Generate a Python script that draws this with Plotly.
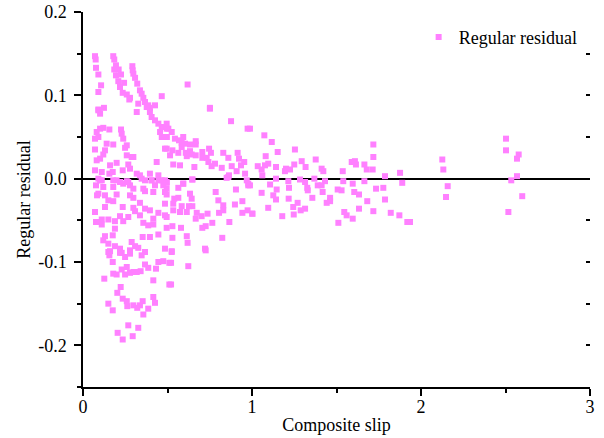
import plotly.graph_objects as go

# (composite slip, regular residual) pairs, grouped by region
pts_upper_left = [(0.071,0.147),(0.075,0.143),(0.077,0.133),(0.091,0.125),(0.107,0.112),(0.091,0.104),
    (0.179,0.147),(0.185,0.143),(0.195,0.136),(0.185,0.131),(0.211,0.131),(0.225,0.125),(0.195,0.124),
    (0.209,0.117),(0.243,0.115),(0.219,0.110),(0.235,0.103),(0.259,0.101),(0.278,0.097),(0.274,0.095),
    (0.292,0.135),(0.294,0.130),(0.298,0.126),(0.308,0.121),(0.321,0.114),(0.337,0.106),(0.347,0.102),
    (0.357,0.097),(0.367,0.092),(0.386,0.088),(0.396,0.085),(0.426,0.088),(0.466,0.099),(0.327,0.090),
    (0.124,0.085),(0.091,0.083),(0.619,0.113),(0.751,0.085)]

pts_mid_left = [(0.091,0.082),(0.101,0.078),(0.318,0.080),(0.377,0.086),(0.396,0.080),(0.406,0.074),
    (0.426,0.070),(0.446,0.066),(0.466,0.062),(0.456,0.056),(0.495,0.060),(0.495,0.050),(0.466,0.050),
    (0.101,0.060),(0.120,0.061),(0.081,0.056),(0.091,0.050),(0.071,0.048),(0.156,0.059),(0.225,0.059),
    (0.229,0.054),(0.238,0.048),(0.140,0.042),(0.179,0.041),(0.071,0.035),(0.130,0.034),(0.249,0.037),
    (0.259,0.040),(0.120,0.029),(0.101,0.024),(0.259,0.028),(0.288,0.026),(0.298,0.026),(0.436,0.020),
    (0.485,0.036),(0.081,0.022),(0.199,0.019),(0.160,0.016),(0.268,0.017),(0.235,0.010),(0.278,0.012),
    (0.111,0.008),(0.176,0.008),(0.156,0.006),(0.318,0.006),(0.337,0.004),(0.396,0.006),(0.446,0.004),
    (0.101,-0.002),(0.179,-0.002),(0.219,-0.004),(0.259,-0.003),(0.367,-0.002),(0.406,-0.002),(0.466,-0.002),
    (0.071,0.010),(0.077,-0.008),(0.083,-0.020),(0.071,-0.040),(0.077,-0.052)]

pts_mid_centre = [(0.751,0.084),(0.876,0.069),(0.974,0.060),(0.495,0.066),(0.505,0.060),(0.525,0.056),
    (0.495,0.050),(0.544,0.048),(0.568,0.046),(0.593,0.050),(0.584,0.043),(0.604,0.042),(0.633,0.041),
    (0.667,0.045),(0.667,0.041),(0.584,0.038),(0.495,0.036),(0.529,0.034),(0.564,0.031),(0.608,0.031),
    (0.633,0.033),(0.643,0.029),(0.515,0.028),(0.614,0.027),(0.667,0.028),(0.706,0.032),(0.746,0.036),
    (0.757,0.031),(0.706,0.025),(0.732,0.025),(0.742,0.020),(0.830,0.031),(0.860,0.025),(0.915,0.031),
    (0.923,0.024),(0.954,0.020),(0.935,0.016),(0.880,0.015),(0.821,0.013),(0.781,0.018),(0.761,0.015),
    (0.659,0.014),(0.574,0.016),(0.534,0.017),(0.909,0.009),(0.959,0.006),(0.864,0.004),(0.850,0.001),
    (0.647,-0.001),(0.495,-0.005),(0.593,-0.006),(0.978,-0.006)]

pts_low_left = [(0.091,0.000),(0.111,-0.002),(0.199,-0.002),(0.268,-0.004),(0.347,0.000),(0.406,-0.002),
    (0.446,-0.002),(0.485,-0.002),(0.120,-0.010),(0.179,-0.010),(0.238,-0.006),(0.278,-0.008),(0.298,-0.012),
    (0.357,-0.012),(0.426,-0.008),(0.475,-0.008),(0.091,-0.018),(0.130,-0.020),(0.199,-0.019),(0.278,-0.020),
    (0.298,-0.023),(0.367,-0.015),(0.416,-0.016),(0.485,-0.016),(0.150,-0.026),(0.179,-0.027),(0.130,-0.034),
    (0.235,-0.034),(0.337,-0.029),(0.298,-0.035),(0.308,-0.039),(0.367,-0.036),(0.396,-0.038),(0.446,-0.041),
    (0.485,-0.044),(0.485,-0.030),(0.219,-0.045),(0.268,-0.046),(0.337,-0.044),(0.416,-0.048),(0.111,-0.049),
    (0.150,-0.049),(0.189,-0.051),(0.238,-0.051),(0.357,-0.053),(0.386,-0.056),(0.416,-0.055),(0.111,-0.055),
    (0.189,-0.060),(0.130,-0.069),(0.176,-0.068),(0.353,-0.070),(0.396,-0.070),(0.446,-0.067),(0.120,-0.074),
    (0.288,-0.076),(0.150,-0.078),(0.189,-0.081),(0.219,-0.084),(0.308,-0.081),(0.327,-0.083),(0.160,-0.087),
    (0.229,-0.089),(0.278,-0.086),(0.485,-0.084)]

pts_low_centre = [(0.647,-0.001),(0.860,0.002),(0.969,-0.002),(0.495,-0.004),(0.593,-0.006),(0.564,-0.011),
    (0.495,-0.012),(0.978,-0.008),(0.785,-0.016),(0.905,-0.013),(0.495,-0.019),(0.540,-0.024),(0.564,-0.023),
    (0.633,-0.018),(0.643,-0.024),(0.801,-0.026),(0.943,-0.027),(0.534,-0.030),(0.584,-0.033),(0.627,-0.033),
    (0.647,-0.033),(0.830,-0.032),(0.899,-0.031),(0.534,-0.038),(0.574,-0.040),(0.614,-0.040),(0.673,-0.041),
    (0.702,-0.045),(0.737,-0.042),(0.805,-0.041),(0.830,-0.038),(0.943,-0.041),(0.974,-0.038),(1.002,-0.042),
    (0.495,-0.046),(0.667,-0.048),(0.765,-0.053),(0.866,-0.052),(0.495,-0.059),(0.529,-0.057),(0.580,-0.059),
    (0.706,-0.059),(0.726,-0.057),(0.529,-0.071),(0.614,-0.069),(0.824,-0.071),(0.619,-0.077),(0.722,-0.084),
    (0.525,-0.087)]

pts_bottom = [(0.150,-0.088),(0.156,-0.092),(0.219,-0.089),(0.249,-0.094),(0.278,-0.090),(0.347,-0.092),
    (0.367,-0.088),(0.176,-0.100),(0.446,-0.100),(0.475,-0.099),(0.511,-0.101),(0.259,-0.106),(0.229,-0.109),
    (0.367,-0.103),(0.386,-0.107),(0.432,-0.108),(0.179,-0.114),(0.199,-0.115),(0.249,-0.115),(0.278,-0.113),
    (0.298,-0.112),(0.318,-0.112),(0.341,-0.111),(0.126,-0.120),(0.416,-0.122),(0.511,-0.127),(0.223,-0.130),
    (0.203,-0.137),(0.235,-0.144),(0.416,-0.142),(0.259,-0.147),(0.426,-0.149),(0.150,-0.150),(0.262,-0.153),
    (0.298,-0.152),(0.321,-0.155),(0.353,-0.147),(0.337,-0.152),(0.386,-0.156),(0.176,-0.158),(0.357,-0.163),
    (0.268,-0.176),(0.327,-0.179),(0.205,-0.185),(0.294,-0.189),(0.235,-0.193),
    (0.525,-0.088),(0.726,-0.086),(0.521,-0.101),(0.623,-0.105),(0.521,-0.127)]

pts_right_mid = [(0.988,0.060),(1.073,0.052),(1.117,0.044),(1.152,0.032),(1.254,0.035),(1.718,0.041),
    (1.081,0.027),(1.294,0.021),(1.377,0.023),(1.034,0.015),(1.057,0.011),(1.077,0.016),(1.096,0.018),
    (1.142,0.014),(1.195,0.009),(1.201,0.012),(1.225,0.011),(1.250,0.017),(1.317,0.014),(1.412,0.012),
    (1.422,0.009),(1.537,0.009),(1.590,0.020),(1.609,0.021),(1.615,0.017),(1.665,0.017),(1.679,0.011),
    (1.714,0.011),(1.718,0.026),(1.787,0.003),(1.876,0.007),(1.061,0.004),(1.142,0.000),(1.215,-0.003),
    (1.284,-0.001),(1.314,-0.004),(1.369,0.000),(1.432,-0.003),(1.540,-0.003),(1.665,-0.003),(0.988,-0.008),
    (1.107,-0.007),(1.146,-0.013),(1.219,-0.011),(1.327,-0.011),(1.330,-0.014),(1.389,-0.008),(1.412,-0.008),
    (1.418,-0.016),(1.507,-0.013),(1.530,-0.014),(1.596,-0.006),(1.605,-0.016),(1.633,-0.019),(1.734,-0.012),
    (1.777,-0.011),(1.889,-0.005),(1.057,-0.017),(1.126,-0.020),(1.142,-0.025),(1.217,-0.024),(1.270,-0.029),
    (1.357,-0.023),(1.462,-0.023),(1.462,-0.027),(1.442,-0.029),(1.682,-0.027),(1.787,-0.025),(1.096,-0.035),
    (1.244,-0.034),(1.288,-0.038),(1.314,-0.036),(1.633,-0.036),(1.718,-0.039),(1.821,-0.041),(1.872,-0.044),
    (1.919,-0.052),(1.179,-0.045),(1.247,-0.043),(1.546,-0.040),(1.560,-0.044),(1.596,-0.048),(1.511,-0.053),
    (1.002,-0.042)]

pts_far_right = [(2.503,0.048),(2.503,0.034),(2.578,0.029),(2.568,0.024),(2.126,0.023),(2.132,0.011),
    (2.568,0.003),(2.534,-0.002),(2.158,-0.009),(2.148,-0.022),(2.599,-0.021),(2.517,-0.040),(1.935,-0.052)]

groups = [pts_upper_left, pts_mid_left, pts_mid_centre, pts_low_left,
          pts_low_centre, pts_bottom, pts_right_mid, pts_far_right]
slip = [p[0] for g in groups for p in g]
residual = [p[1] for g in groups for p in g]

x_ticks = [0, 1, 2, 3]
x_ticktext = ["0", "1", "2", "3"]
y_ticks = [-0.2, -0.1, 0.0, 0.1, 0.2]
y_ticktext = ["-0.2", "-0.1", "0.0", "0.1", "0.2"]

FONT = "Liberation Serif, Times New Roman, serif"
PINK = "#FF80FF"

fig = go.Figure()
fig.add_trace(go.Scatter(
    x=slip, y=residual, mode="markers", name="Regular residual",
    marker=dict(symbol="square", size=6, color=PINK, line=dict(width=0)),
))
# invisible trace to host the right-side tick marks
fig.add_trace(go.Scatter(x=[None], y=[None], yaxis="y2", showlegend=False, hoverinfo="skip"))

fig.update_layout(
    width=604, height=438,
    margin=dict(l=83, r=14, t=12, b=51, autoexpand=False),
    paper_bgcolor="white", plot_bgcolor="white",
    font=dict(family=FONT, size=18, color="black"),
    showlegend=True,
    legend=dict(x=0.662, y=0.982, xanchor="left", yanchor="top",
                bgcolor="rgba(0,0,0,0)", font=dict(family=FONT, size=18)),
    xaxis=dict(range=[0, 3], showgrid=False, zeroline=False, automargin=False,
               showline=True, linecolor="black", linewidth=1.5,
               ticks="outside", ticklen=7, tickwidth=1.5, tickcolor="black",
               ticklabelstandoff=-4,
               tickvals=x_ticks, ticktext=x_ticktext,
               minor=dict(ticks="outside", ticklen=4, tickwidth=1.5, tickcolor="black",
                          tick0=0, dtick=0.5, showgrid=False),
               title=dict(text="Composite slip", standoff=2, font=dict(size=18))),
    yaxis=dict(range=[-0.25, 0.2], showgrid=False, automargin=False,
               zeroline=True, zerolinecolor="black", zerolinewidth=2,
               showline=True, linecolor="black", linewidth=1.5,
               ticks="outside", ticklen=7, tickwidth=1.5, tickcolor="black",
               ticklabelstandoff=4,
               tickvals=y_ticks, ticktext=y_ticktext,
               minor=dict(ticks="outside", ticklen=4, tickwidth=1.5, tickcolor="black",
                          tick0=0, dtick=0.05, showgrid=False),
               title=dict(text="Regular residual", standoff=3, font=dict(size=18))),
    yaxis2=dict(range=[-0.25, 0.2], overlaying="y", side="right", showgrid=False,
                zeroline=False, showline=False, showticklabels=False, automargin=False,
                ticks="inside", ticklen=4, tickwidth=1.5, tickcolor="black",
                tick0=0, dtick=0.05),
)

# remove the default 8px page margin so the figure sits at the window's corner
fig.write_html("out.html", config={"displayModeBar": False},
               post_script="document.body.style.margin='0px';")
